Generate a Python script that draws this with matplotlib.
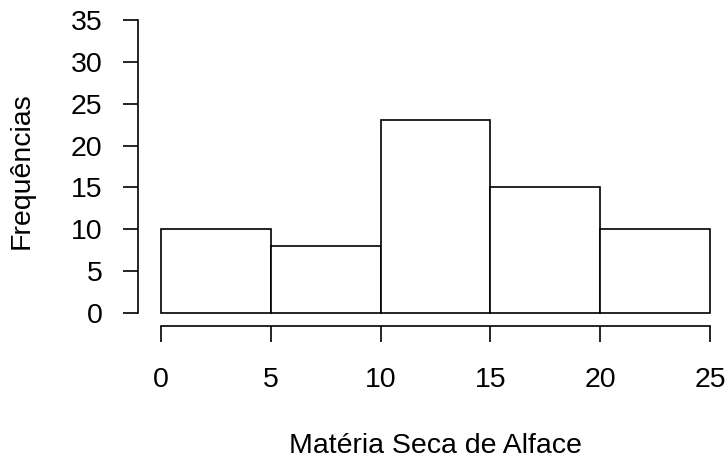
import matplotlib.pyplot as plt

plt.rcParams['font.family'] = ['Liberation Sans', 'DejaVu Sans']

# classes do histograma e frequencias
bins = [0, 5, 10, 15, 20, 25]
freq = [10, 8, 23, 15, 10]
yticks = [0, 5, 10, 15, 20, 25, 30, 35]

W, H = 728, 459
fs = 20.5
fig = plt.figure(figsize=(W / 100, H / 100), dpi=100)
ax = fig.add_axes([161 / W, 1 - 313 / H, (710 - 161) / W, (313 - 20) / H])

ax.bar(bins[:-1], freq, width=5, align='edge', facecolor='white',
       edgecolor='black', linewidth=1.2, clip_on=False)
ax.set_xlim(0, 25)
ax.set_ylim(0, 35)

ax.spines['top'].set_visible(False)
ax.spines['right'].set_visible(False)
ax.spines['left'].set_position(('outward', 23.5 * 0.72))
ax.spines['bottom'].set_position(('outward', 13 * 0.72))
ax.spines['left'].set_bounds(0, 35)
ax.spines['bottom'].set_bounds(0, 25)
for s in ['left', 'bottom']:
    ax.spines[s].set_linewidth(1.2)

ax.set_xticks(bins)
ax.set_yticks(yticks)
ax.tick_params(axis='x', length=11.5, width=1.2, pad=18, labelsize=fs)
ax.tick_params(axis='y', length=10.8, width=1.2, pad=14.4, labelsize=fs)

fig.text((161 + 710) / 2 / W, 1 - 446 / H, 'Matéria Seca de Alface',
         ha='center', va='center', fontsize=fs)
fig.text(22 / W, 1 - 171 / H, 'Frequências', rotation=90,
         ha='center', va='center', fontsize=fs)

fig.savefig('out.png', dpi=100)
